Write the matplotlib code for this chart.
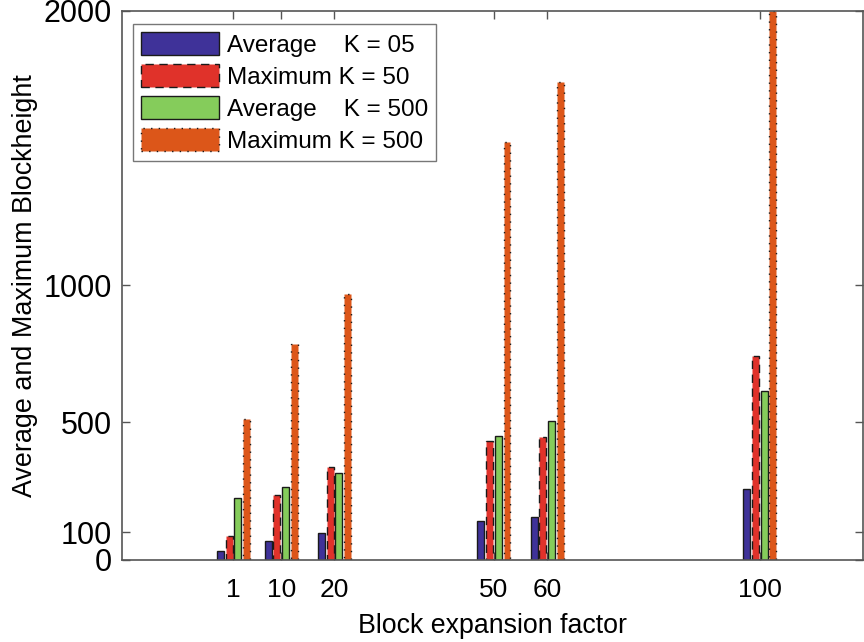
import matplotlib
matplotlib.use("Agg")
import matplotlib.pyplot as plt
import numpy as np

# Block expansion factors (x positions of bar groups)
factors = [1, 10, 20, 50, 60, 100]

# Block heights per series
avg_k05 = [30, 67, 97, 140, 155, 256]
max_k50 = [86, 236, 337, 431, 448, 742]
avg_k500 = [225, 263, 315, 450, 505, 614]
max_k500 = [512, 785, 967, 1521, 1740, 2000]

series_labels = ["Average    K = 05", "Maximum K = 50",
                 "Average    K = 500", "Maximum K = 500"]
y_ticks = [0, 100, 500, 1000, 2000]

series = [avg_k05, max_k50, avg_k500, max_k500]
colors = ["#3f3299", "#e0322a", "#85cc5b", "#dc5619"]
edge_styles = ["-", (0, (6, 4)), "-", (0, (1, 4.5))]

plt.rcParams["font.family"] = ["Liberation Sans", "DejaVu Sans"]

fig = plt.figure(figsize=(8.64, 6.42), dpi=100)
W, H = 864, 642
left, right, top, bottom = 121.7, 863.0, 10.7, 559.5
ax = fig.add_axes([left / W, (H - bottom) / H, (right - left) / W, (bottom - top) / H])

# grouped bar geometry: group spans 4/(4+1.5) of the smallest spacing
x = np.array(factors, dtype=float)
n = len(series)
dx = np.min(np.diff(x))
group_w = dx * n / (n + 1.5)
step = group_w / n
bar_w = 0.8 * step
offsets = (np.arange(n) - (n - 1) / 2) * step

handles = []
for vals, col, ls, off, lab in zip(series, colors, edge_styles, offsets, series_labels):
    h = ax.bar(x + off, vals, width=bar_w, color=col, edgecolor="#1a1a1a",
               linewidth=1.0, linestyle=ls, label=lab, zorder=2)
    handles.append(h)

ax.set_xlim(-20, 119.4)
ax.set_ylim(0, 2000)
ax.set_xticks(factors)
ax.set_xticklabels([str(f) for f in factors])
ax.set_yticks(y_ticks)
ax.set_axisbelow(True)

ax.tick_params(axis="both", direction="in", length=6, width=1.0, color="#555555",
               top=True, right=True)
ax.tick_params(axis="x", pad=13, labelsize=19)
ax.tick_params(axis="y", pad=7, labelsize=22)
for sp in ax.spines.values():
    sp.set_color("#555555")
    sp.set_linewidth(1.2)

ax.set_xlabel("Block expansion factor", fontsize=19.3, labelpad=8)
ax.set_ylabel("Average and Maximum Blockheight", fontsize=19.4, labelpad=4)

leg = ax.legend(handles=handles, loc="upper left",
                bbox_to_anchor=(0.0152, 0.9758), borderaxespad=0,
                fontsize=17.5, handlelength=3.2, handleheight=1.05,
                labelspacing=0.3, handletextpad=0.3, borderpad=0.35,
                fancybox=False, framealpha=1, edgecolor="#777777")
leg.get_frame().set_linewidth(1.0)

fig.savefig("out.png", dpi=100)
